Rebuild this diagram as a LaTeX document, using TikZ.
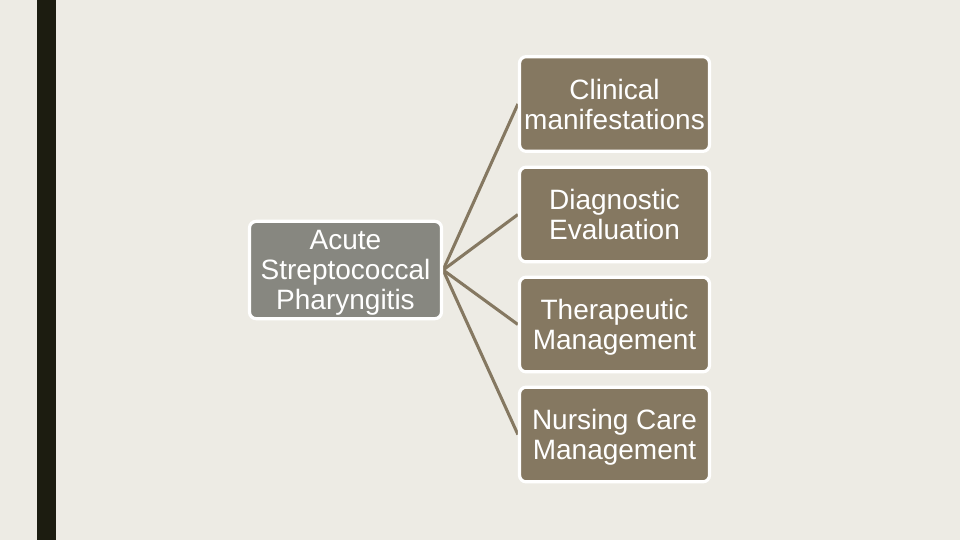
\documentclass[tikz,border=0pt]{standalone}
\usepackage{fontspec}
\setmainfont{Liberation Sans}
\usetikzlibrary{backgrounds}
\definecolor{bgc}{HTML}{EDEBE4}
\definecolor{barc}{HTML}{1C1C10}
\definecolor{leftc}{HTML}{878780}
\definecolor{rightc}{HTML}{857861}
\definecolor{linec}{HTML}{857861}
\newcommand{\dnlines}[2]{\raisebox{-#1}[\height][\depth]{\begin{tabular}{@{}c@{}}#2\end{tabular}}}
\tikzset{
  box/.style={draw=white, line width=2.4pt, rounded corners=5pt, text=white,
    align=center, inner sep=0pt, minimum width=142.5pt, minimum height=71pt,
    font=\fontsize{21}{22.5}\selectfont},
  leftbox/.style={box, fill=leftc, minimum width=144pt, minimum height=73pt},
  rightbox/.style={box, fill=rightc},
  conn/.style={draw=linec, line width=2.3pt}
}
\begin{document}
\begin{tikzpicture}[x=0.75pt,y=-0.75pt]
\useasboundingbox (0,0) rectangle (960,540);
\node[leftbox] (src) at (345.5,270) {\dnlines{2.5pt}{Acute\\Streptococcal\\Pharyngitis}};
\node[rightbox] (c1) at (614.5,104) {Clinical\\manifestations};
\node[rightbox] (c2) at (614.5,214.5) {Diagnostic\\Evaluation};
\node[rightbox] (c3) at (614.5,324.5) {\dnlines{3pt}{Therapeutic\\Management}};
\node[rightbox] (c4) at (614.5,434.5) {\dnlines{3pt}{Nursing Care\\Management}};
\begin{scope}[on background layer]
\fill[bgc] (0,0) rectangle (960,540);
\fill[barc] (37,0) rectangle (56,540);
\foreach \t in {c1,c2,c3,c4} \draw[conn] (src.east) -- (\t.west);
\end{scope}
\end{tikzpicture}
\end{document}
